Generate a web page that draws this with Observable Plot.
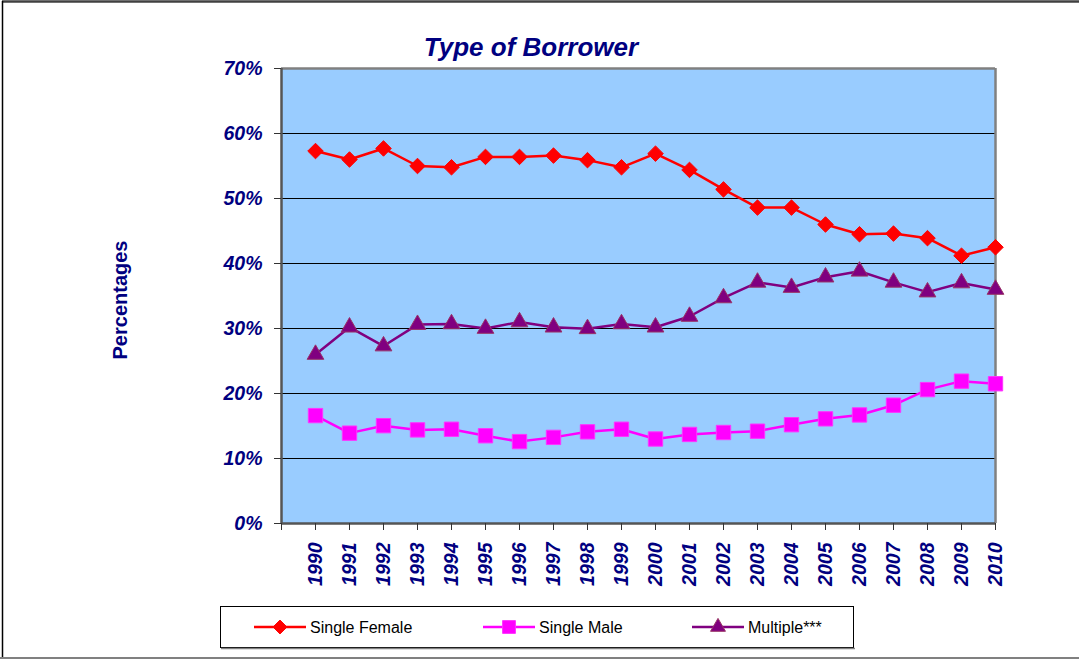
<!DOCTYPE html>
<html>
<head>
<meta charset="utf-8">
<script src="https://cdn.jsdelivr.net/npm/d3@7"></script>
<script src="https://cdn.jsdelivr.net/npm/@observablehq/plot@0.6"></script>
<style>
  html, body { margin: 0; padding: 0; background: #fff; }
  #chart { width: 1079px; height: 659px; overflow: hidden; }
  svg { display: block; }
</style>
</head>
<body>
<div id="chart"></div>
<script>
const years = [1990, 1991, 1992, 1993, 1994, 1995, 1996, 1997, 1998, 1999, 2000,
               2001, 2002, 2003, 2004, 2005, 2006, 2007, 2008, 2009, 2010];
const singleFemale = [57.3, 56.0, 57.7, 55.0, 54.8, 56.4, 56.4, 56.6, 55.9, 54.8, 56.9,
                      54.4, 51.4, 48.6, 48.6, 46.0, 44.5, 44.6, 43.9, 41.2, 42.5];
const singleMale = [16.6, 13.9, 15.05, 14.4, 14.5, 13.5, 12.6, 13.25, 14.1, 14.5, 13.0,
                    13.7, 14.0, 14.2, 15.2, 16.1, 16.7, 18.2, 20.6, 21.9, 21.5];
const multiple = [26.0, 30.2, 27.3, 30.6, 30.7, 30.0, 31.0, 30.2, 29.95, 30.7, 30.2,
                  31.85, 34.7, 37.1, 36.3, 37.9, 38.8, 37.1, 35.6, 37.0, 36.0];
const seriesNames = ["Single Female", "Single Male", "Multiple***"];
const yTicks = [0, 10, 20, 30, 40, 50, 60, 70];
const gridValues = [10, 20, 30, 40, 50, 60];
const xTicks = [1989, 1990, 1991, 1992, 1993, 1994, 1995, 1996, 1997, 1998, 1999, 2000,
                2001, 2002, 2003, 2004, 2005, 2006, 2007, 2008, 2009, 2010];

const seriesValues = [singleFemale, singleMale, multiple];
const styles = [
  {stroke: "#FF0000", fill: "#FF0000", mstroke: "#FF0000", symbol: "diamond2", r: 7.0},
  {stroke: "#FF00FF", fill: "#FF00FF", mstroke: "#FF33FF", symbol: "square", r: 8.1},
  {stroke: "#800080", fill: "#800080", mstroke: "#993366", symbol: "triangle", r: 6.2}
];
const tables = seriesValues.map((vals, i) =>
  years.map((yr, j) => ({year: yr, value: vals[j], series: seriesNames[i]})));

const navy = "#000080";
const font = "'Liberation Sans', Arial, Helvetica, sans-serif";

const marks = [
  Plot.frame({fill: "#99CCFF", stroke: null}),
  Plot.ruleY(gridValues, {stroke: "#000", strokeWidth: 1}),
  Plot.ruleY([70], {stroke: "#808080", strokeWidth: 2.5}),
  Plot.ruleX([2010], {stroke: "#808080", strokeWidth: 2.5}),
  Plot.ruleX([1989], {stroke: "#555", strokeWidth: 2.5}),
  Plot.ruleY([0], {stroke: "#555", strokeWidth: 2.5}),
  Plot.axisY({ticks: yTicks, tickSize: 7, tickPadding: 12, tickFormat: d => d + "%",
              fontSize: 19.5, fontWeight: "bold", fontStyle: "italic",
              fill: navy, stroke: "#333", label: null}),
  Plot.axisX({ticks: xTicks, tickSize: 7, tickPadding: 12, tickRotate: -90,
              tickFormat: d => (d === 1989 ? "" : String(d)),
              fontSize: 19.5, fontWeight: "bold", fontStyle: "italic",
              fill: navy, stroke: "#333", label: null})
];
tables.forEach((t, i) => {
  const s = styles[i];
  marks.push(Plot.line(t, {x: "year", y: "value", stroke: s.stroke, strokeWidth: 2.5}));
  marks.push(Plot.dot(t, {x: "year", y: "value", symbol: () => s.symbol, r: s.r,
                          fill: s.fill, stroke: s.mstroke, strokeWidth: 1}));
});

const chart = Plot.plot({
  width: 1079,
  height: 659,
  marginTop: 68,
  marginBottom: 136,
  marginLeft: 281,
  marginRight: 84,
  style: {background: "#fff", fontFamily: font, overflow: "visible"},
  x: {domain: [1989, 2010], axis: null},
  y: {domain: [0, 70], axis: null},
  symbol: {type: "identity"},
  marks
});

const svg = d3.select(chart);
svg.selectAll("text").style("font-family", font);

// page frame
svg.append("line").attr("x1", 2).attr("x2", 1079).attr("y1", 1.5).attr("y2", 1.5)
  .attr("stroke", "#404040").attr("stroke-width", 2.5);
svg.append("line").attr("x1", 2.5).attr("x2", 2.5).attr("y1", 1).attr("y2", 659)
  .attr("stroke", "#000").attr("stroke-width", 1.5);
svg.append("line").attr("x1", 0).attr("x2", 1079).attr("y1", 658).attr("y2", 658)
  .attr("stroke", "#808080").attr("stroke-width", 2);

// title
svg.append("text").attr("x", 531).attr("y", 56).attr("text-anchor", "middle")
  .style("font-family", font).style("font-size", "26px").style("font-weight", "bold")
  .style("font-style", "italic").attr("fill", navy).text("Type of Borrower");

// y axis label
svg.append("text").attr("transform", "translate(127,300) rotate(-90)")
  .attr("text-anchor", "middle")
  .style("font-family", font).style("font-size", "20px").style("font-weight", "bold")
  .attr("fill", navy).text("Percentages");

// legend
const lg = svg.append("g");
lg.append("rect").attr("x", 220.5).attr("y", 606.5).attr("width", 633).attr("height", 41)
  .attr("fill", "#fff").attr("stroke", "#000").attr("stroke-width", 1);
lg.append("line").attr("x1", 221).attr("x2", 855).attr("y1", 648.5).attr("y2", 648.5)
  .attr("stroke", "#808080").attr("stroke-width", 1.5);
const legendX = [254, 483, 692];
const symbolMap = {diamond2: d3.symbolDiamond2, square: d3.symbolSquare, triangle: d3.symbolTriangle};
seriesNames.forEach((name, i) => {
  const s = styles[i];
  const x0 = legendX[i];
  const cy = 627;
  lg.append("line").attr("x1", x0).attr("x2", x0 + 52).attr("y1", cy).attr("y2", cy)
    .attr("stroke", s.stroke).attr("stroke-width", 2.5);
  const size = Math.PI * s.r * s.r * 0.8;
  lg.append("path").attr("d", d3.symbol(symbolMap[s.symbol], size)())
    .attr("transform", `translate(${x0 + 26},${cy})`)
    .attr("fill", s.fill).attr("stroke", s.mstroke).attr("stroke-width", 1);
  lg.append("text").attr("x", x0 + 56).attr("y", cy + 6).attr("text-anchor", "start")
    .style("font-family", font).style("font-size", "16px").attr("fill", "#000").text(name);
});

document.getElementById("chart").appendChild(chart);
</script>
</body>
</html>
